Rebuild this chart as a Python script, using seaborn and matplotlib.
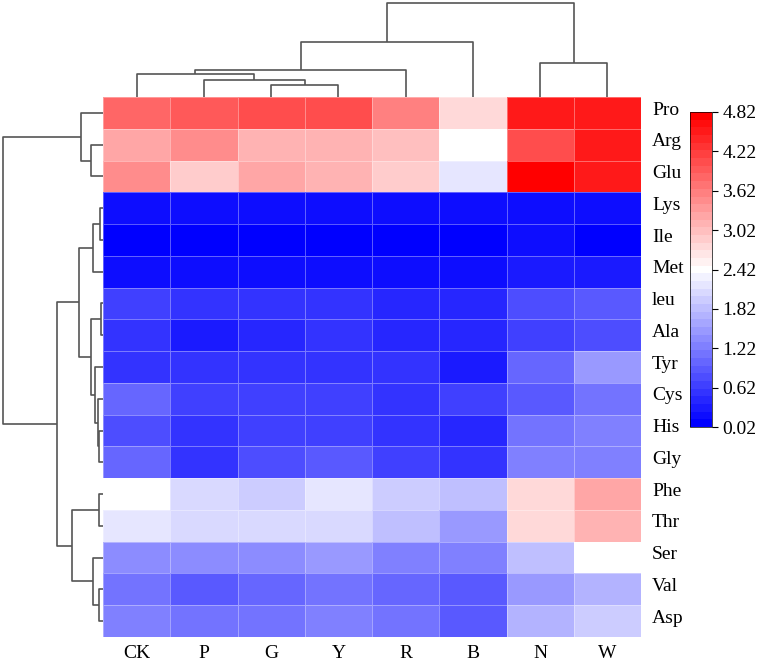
import numpy as np
import pandas as pd
import seaborn as sns
import matplotlib as mpl
import matplotlib.transforms as mtransforms
from matplotlib import pyplot as plt

plt.rcParams['font.family'] = ['Liberation Serif', 'DejaVu Serif']
plt.rcParams['figure.dpi'] = 100

# columns (treatments) and rows (amino acids), in the order shown
samples = ["CK", "P", "G", "Y", "R", "B", "N", "W"]
amino = ["Pro", "Arg", "Glu", "Lys", "Ile", "Met", "leu", "Ala", "Tyr",
         "Cys", "His", "Gly", "Phe", "Thr", "Ser", "Val", "Asp"]

pro = [3.83, 3.93, 4.02, 4.02, 3.55, 2.80, 4.58, 4.58]
arg = [3.27, 3.50, 3.17, 3.13, 3.03, 2.43, 4.11, 4.54]
glu = [3.45, 2.94, 3.27, 3.17, 2.90, 2.23, 4.82, 4.58]
lys = [0.15, 0.14, 0.16, 0.15, 0.14, 0.15, 0.22, 0.24]
ile = [0.10, 0.10, 0.12, 0.10, 0.10, 0.10, 0.14, 0.12]
met = [0.25, 0.22, 0.20, 0.20, 0.20, 0.22, 0.30, 0.30]
leu = [0.68, 0.58, 0.49, 0.54, 0.44, 0.44, 0.77, 0.87]
ala = [0.49, 0.35, 0.40, 0.49, 0.44, 0.44, 0.68, 0.73]
tyr = [0.54, 0.58, 0.58, 0.58, 0.49, 0.26, 1.01, 1.43]
cys = [0.96, 0.68, 0.68, 0.68, 0.58, 0.63, 0.87, 1.10]
his = [0.73, 0.54, 0.63, 0.63, 0.54, 0.44, 1.15, 1.29]
gly = [1.05, 0.49, 0.77, 0.91, 0.63, 0.54, 1.20, 1.29]
phe = [2.40, 2.04, 1.90, 2.23, 1.95, 1.81, 2.75, 3.22]
thr = [2.23, 2.04, 2.04, 2.11, 1.81, 1.53, 2.75, 3.13]
ser = [1.38, 1.34, 1.38, 1.48, 1.24, 1.20, 1.81, 2.42]
val = [1.15, 0.91, 1.05, 1.10, 0.96, 0.87, 1.48, 1.76]
asp = [1.20, 1.15, 1.15, 1.29, 1.10, 0.87, 1.67, 2.00]

# dendrogram merges: [left, right, height, size]
row_link = [
    [6, 7, 2, 2], [3, 4, 3, 2], [10, 11, 4, 2], [12, 13, 4, 2],
    [15, 16, 4, 2], [9, 19, 5, 3], [8, 22, 8, 4], [18, 5, 10, 3],
    [14, 21, 10, 3], [1, 2, 12, 2], [17, 23, 12, 6], [0, 26, 22, 3],
    [24, 27, 24, 9], [20, 25, 31, 5], [29, 30, 46, 14], [28, 31, 100, 17],
]
col_link = [
    [2, 3, 12, 2], [1, 8, 17, 3], [0, 9, 23, 4], [10, 4, 27, 5],
    [6, 7, 34, 2], [11, 5, 55, 6], [13, 12, 94, 8],
]

cbar_ticks = [0.02, 0.62, 1.22, 1.82, 2.42, 3.02, 3.62, 4.22, 4.82]

df = pd.DataFrame([pro, arg, glu, lys, ile, met, leu, ala, tyr, cys, his,
                   gly, phe, thr, ser, val, asp], index=amino, columns=samples)

# banded blue-white-red scale, odd count keeps a white middle band
cmap = mpl.colormaps["bwr"].resampled(41)

g = sns.clustermap(
    df,
    row_linkage=np.array(row_link, dtype=float),
    col_linkage=np.array(col_link, dtype=float),
    cmap=cmap, vmin=0.02, vmax=4.82,
    figsize=(7.67, 6.62),
    linewidths=0.5, linecolor=(1, 1, 1, 0.35),
    xticklabels=True, yticklabels=True,
    tree_kws={"linewidths": 1.2, "colors": "#555555"},
    cbar_kws={"ticks": cbar_ticks, "format": "%.2f"},
)

W, H = 767, 662
def place(ax, x0, y0, x1, y1):
    ax.set_position([x0 / W, 1 - y1 / H, (x1 - x0) / W, (y1 - y0) / H])

place(g.ax_heatmap, 103, 97, 641, 637)
place(g.ax_row_dendrogram, -2, 97, 103, 637)
place(g.ax_col_dendrogram, 103, -2, 641, 97)
place(g.ax_cbar, 690, 112, 712, 427)

ax = g.ax_heatmap
ax.set_xlabel("")
ax.set_ylabel("")
ax.tick_params(axis="y", length=0, labelsize=14, pad=8)
ax.tick_params(axis="x", length=0, labelsize=14, pad=6)
plt.setp(ax.get_xticklabels(), rotation=0)
plt.setp(ax.get_yticklabels(), rotation=0)

# row names sit a little above the row centres in the original
shift = mtransforms.ScaledTranslation(0, 3.5 / 72, g.figure.dpi_scale_trans)
for lab in ax.get_yticklabels():
    lab.set_transform(lab.get_transform() + shift)

g.ax_cbar.tick_params(labelsize=14, length=4, width=0.8)
g.ax_cbar.spines["outline"].set_linewidth(0.5)

g.figure.savefig("out.png", dpi=100)
